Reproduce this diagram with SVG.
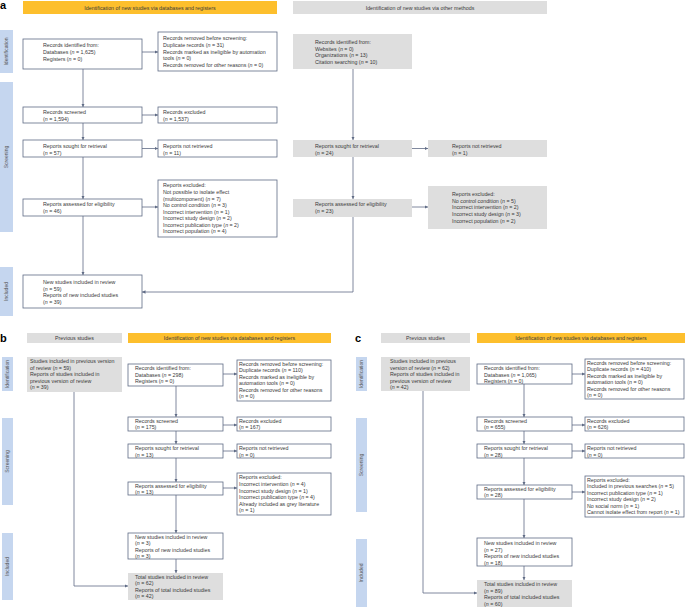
<svg xmlns="http://www.w3.org/2000/svg" width="685" height="607" viewBox="0 0 685 607">
<style>
text{font-family:"Liberation Sans",Arial,sans-serif;font-size:5.3px;fill:#3a3a3a}
.i{font-style:italic}
.h{text-anchor:middle}
.lbl{font-size:11px;font-weight:bold;fill:#000}
.side{font-size:5px;fill:#555;text-anchor:middle}
.bx{fill:#fff;stroke:#5f6b85;stroke-width:0.8}
.gb{fill:#dedede;stroke:none}
.or{fill:#fdbf2d}
.gh{fill:#dedede}
.sb{fill:#c5d6ef}
.c{fill:none;stroke:#5f6b85;stroke-width:0.8;marker-end:url(#ah)}
</style>
<defs>
<marker id="ah" viewBox="0 0 6 6" refX="6" refY="3" markerWidth="3.5" markerHeight="3.5" markerUnits="userSpaceOnUse" orient="auto">
<path d="M0,0 L6,3 L0,6 z" fill="#5f6b85"/>
</marker>
</defs>

<!-- Panel a -->
<g id="a-label"><text class="lbl" x="0" y="9">a</text></g>
<g id="a-head-db"><rect class="or" x="23" y="1" width="254" height="13"/><text class="h" x="150" y="9.5">Identification of new studies via databases and registers</text></g>
<g id="a-head-other"><rect class="gh" x="293" y="1" width="254" height="13"/><text class="h" x="420" y="9.5">Identification of new studies via other methods</text></g>
<g id="a-side-id"><rect class="sb" x="0" y="30" width="13" height="43"/><text class="side" transform="translate(8.3,51.5) rotate(-90)">Identification</text></g>
<g id="a-side-scr"><rect class="sb" x="0" y="82" width="13" height="150"/><text class="side" transform="translate(8.3,157) rotate(-90)">Screening</text></g>
<g id="a-side-inc"><rect class="sb" x="0" y="267" width="13" height="49"/><text class="side" transform="translate(8.3,291.5) rotate(-90)">Included</text></g>

<g id="a-identified"><rect class="bx" x="23" y="39" width="119" height="30"/>
<text x="43" y="47">Records identified from:</text><text x="43" y="54">Databases (<tspan class="i">n</tspan> = 1,625)</text><text x="43" y="60.5">Registers (<tspan class="i">n</tspan> = 0)</text></g>
<g id="a-removed"><rect class="bx" x="158" y="32" width="119" height="39"/>
<text x="163" y="40">Records removed before screening:</text><text x="163" y="47">Duplicate records (<tspan class="i">n</tspan> = 31)</text><text x="163" y="53.5">Records marked as ineligible by automation</text><text x="163" y="60">tools (<tspan class="i">n</tspan> = 0)</text><text x="163" y="67">Records removed for other reasons (<tspan class="i">n</tspan> = 0)</text></g>
<g id="a-screened"><rect class="bx" x="23" y="107" width="119" height="16"/>
<text x="43" y="114">Records screened</text><text x="43" y="120.5">(<tspan class="i">n</tspan> = 1,594)</text></g>
<g id="a-excluded"><rect class="bx" x="158" y="107" width="119" height="16"/>
<text x="163" y="114">Records excluded</text><text x="163" y="120.5">(<tspan class="i">n</tspan> = 1,537)</text></g>
<g id="a-sought"><rect class="bx" x="23" y="140" width="119" height="17"/>
<text x="43" y="148">Reports sought for retrieval</text><text x="43" y="154.5">(<tspan class="i">n</tspan> = 57)</text></g>
<g id="a-notret"><rect class="bx" x="158" y="140" width="119" height="17"/>
<text x="163" y="148">Reports not retrieved</text><text x="163" y="154.5">(<tspan class="i">n</tspan> = 11)</text></g>
<g id="a-assessed"><rect class="bx" x="23" y="199" width="119" height="17"/>
<text x="43" y="206">Reports assessed for eligibility</text><text x="43" y="213">(<tspan class="i">n</tspan> = 46)</text></g>
<g id="a-repexcl"><rect class="bx" x="158" y="180" width="119" height="57"/>
<text x="163" y="186.5">Reports excluded:</text><text x="163" y="194">Not possible to isolate effect</text><text x="163" y="200.5">(multicomponent) (<tspan class="i">n</tspan> = 7)</text><text x="163" y="207">No control condition (<tspan class="i">n</tspan> = 3)</text><text x="163" y="213.5">Incorrect intervention (<tspan class="i">n</tspan> = 1)</text><text x="163" y="220">Incorrect study design (<tspan class="i">n</tspan> = 2)</text><text x="163" y="226.5">Incorrect publication type (<tspan class="i">n</tspan> = 2)</text><text x="163" y="233">Incorrect population (<tspan class="i">n</tspan> = 4)</text></g>
<g id="a-new"><rect class="bx" x="23" y="275" width="119" height="33"/>
<text x="43" y="284">New studies included in review</text><text x="43" y="290.5">(<tspan class="i">n</tspan> = 59)</text><text x="43" y="297">Reports of new included studies</text><text x="43" y="303.5">(<tspan class="i">n</tspan> = 39)</text></g>

<g id="a-o-identified"><rect class="gb" x="293" y="34" width="119" height="35"/>
<text x="315" y="44">Records identified from:</text><text x="315" y="50.5">Websites (<tspan class="i">n</tspan> = 0)</text><text x="315" y="57">Organizations (<tspan class="i">n</tspan> = 13)</text><text x="315" y="63.5">Citation searching (<tspan class="i">n</tspan> = 10)</text></g>
<g id="a-o-sought"><rect class="gb" x="293" y="140" width="119" height="17"/>
<text x="315" y="148">Reports sought for retrieval</text><text x="315" y="154.5">(<tspan class="i">n</tspan> = 24)</text></g>
<g id="a-o-notret"><rect class="gb" x="428" y="140" width="119" height="17"/>
<text x="452" y="148">Reports not retrieved</text><text x="452" y="154.5">(<tspan class="i">n</tspan> = 1)</text></g>
<g id="a-o-assessed"><rect class="gb" x="293" y="199" width="119" height="18"/>
<text x="315" y="206">Reports assessed for eligibility</text><text x="315" y="213">(<tspan class="i">n</tspan> = 23)</text></g>
<g id="a-o-repexcl"><rect class="gb" x="428" y="186" width="119" height="43"/>
<text x="452" y="195.5">Reports excluded:</text><text x="452" y="202.5">No control condition (<tspan class="i">n</tspan> = 5)</text><text x="452" y="209">Incorrect intervention (<tspan class="i">n</tspan> = 2)</text><text x="452" y="215.5">Incorrect study design (<tspan class="i">n</tspan> = 3)</text><text x="452" y="222.5">Incorrect population (<tspan class="i">n</tspan> = 2)</text></g>

<!-- Panel b -->
<g id="b-label"><text class="lbl" x="0" y="342">b</text></g>
<g id="b-head-prev"><rect class="gh" x="27" y="333" width="95" height="10"/><text class="h" x="74.5" y="340">Previous studies</text></g>
<g id="b-head-db"><rect class="or" x="128" y="333" width="203" height="10"/><text class="h" x="229.5" y="340">Identification of new studies via databases and registers</text></g>
<g id="b-side-id"><rect class="sb" x="2" y="357" width="11" height="34"/><text class="side" transform="translate(9.3,374) rotate(-90)">Identification</text></g>
<g id="b-side-scr"><rect class="sb" x="2" y="418" width="11" height="87"/><text class="side" transform="translate(9.3,461.5) rotate(-90)">Screening</text></g>
<g id="b-side-inc"><rect class="sb" x="2" y="533" width="11" height="67"/><text class="side" transform="translate(9.3,566.5) rotate(-90)">Included</text></g>

<g id="b-prev"><rect class="gb" x="27" y="357" width="95" height="35"/>
<text x="30" y="363">Studies included in previous version</text><text x="30" y="369.5">of review (<tspan class="i">n</tspan> = 59)</text><text x="30" y="376">Reports of studies included in</text><text x="30" y="382.5">previous version of review</text><text x="30" y="389">(<tspan class="i">n</tspan> = 39)</text></g>
<g id="b-identified"><rect class="bx" x="128" y="364" width="95" height="22"/>
<text x="135" y="370">Records identified from:</text><text x="135" y="376.5">Databases (<tspan class="i">n</tspan> = 298)</text><text x="135" y="383">Registers (<tspan class="i">n</tspan> = 0)</text></g>
<g id="b-removed"><rect class="bx" x="237" y="360" width="94" height="41"/>
<text x="239" y="365.5">Records removed before screening:</text><text x="239" y="372">Duplicate records (<tspan class="i">n</tspan> = 110)</text><text x="239" y="378.5">Records marked as ineligible by</text><text x="239" y="385">automation tools (<tspan class="i">n</tspan> = 0)</text><text x="239" y="391.5">Records removed for other reasons</text><text x="239" y="398">(<tspan class="i">n</tspan> = 0)</text></g>
<g id="b-screened"><rect class="bx" x="128" y="417" width="95" height="14"/>
<text x="135" y="423">Records screened</text><text x="135" y="429">(<tspan class="i">n</tspan> = 175)</text></g>
<g id="b-excluded"><rect class="bx" x="237" y="417" width="94" height="14"/>
<text x="239" y="423">Records excluded</text><text x="239" y="429">(<tspan class="i">n</tspan> = 167)</text></g>
<g id="b-sought"><rect class="bx" x="128" y="444" width="95" height="14"/>
<text x="135" y="450">Reports sought for retrieval</text><text x="135" y="456.5">(<tspan class="i">n</tspan> = 13)</text></g>
<g id="b-notret"><rect class="bx" x="237" y="444" width="94" height="14"/>
<text x="239" y="450">Reports not retrieved</text><text x="239" y="456.5">(<tspan class="i">n</tspan> = 0)</text></g>
<g id="b-assessed"><rect class="bx" x="128" y="482" width="95" height="13"/>
<text x="135" y="487.5">Reports assessed for eligibility</text><text x="135" y="493.5">(<tspan class="i">n</tspan> = 13)</text></g>
<g id="b-repexcl"><rect class="bx" x="237" y="473" width="94" height="42"/>
<text x="239" y="479">Reports excluded:</text><text x="239" y="485.5">Incorrect intervention (<tspan class="i">n</tspan> = 4)</text><text x="239" y="492.5">Incorrect study design (<tspan class="i">n</tspan> = 1)</text><text x="239" y="499">Incorrect publication type (<tspan class="i">n</tspan> = 4)</text><text x="239" y="505.5">Already included as grey literature</text><text x="239" y="512">(<tspan class="i">n</tspan> = 1)</text></g>
<g id="b-new"><rect class="bx" x="128" y="533" width="95" height="26"/>
<text x="135" y="538.5">New studies included in review</text><text x="135" y="545">(<tspan class="i">n</tspan> = 3)</text><text x="135" y="551.5">Reports of new included studies</text><text x="135" y="558">(<tspan class="i">n</tspan> = 3)</text></g>
<g id="b-total"><rect class="gb" x="128" y="573" width="95" height="27"/>
<text x="135" y="578.5">Total studies included in review</text><text x="135" y="585">(<tspan class="i">n</tspan> = 62)</text><text x="135" y="591.5">Reports of total included studies</text><text x="135" y="598">(<tspan class="i">n</tspan> = 42)</text></g>

<!-- Panel c -->
<g id="c-label"><text class="lbl" x="355" y="342">c</text></g>
<g id="c-head-prev"><rect class="gh" x="381" y="333" width="89" height="10"/><text class="h" x="425.5" y="340">Previous studies</text></g>
<g id="c-head-db"><rect class="or" x="477" y="333" width="208" height="10"/><text class="h" x="581" y="340">Identification of new studies via databases and registers</text></g>
<g id="c-side-id"><rect class="sb" x="356" y="357" width="11" height="34"/><text class="side" transform="translate(363.3,374) rotate(-90)">Identification</text></g>
<g id="c-side-scr"><rect class="sb" x="356" y="418" width="11" height="94"/><text class="side" transform="translate(363.3,465) rotate(-90)">Screening</text></g>
<g id="c-side-inc"><rect class="sb" x="356" y="539" width="11" height="68"/><text class="side" transform="translate(363.3,573) rotate(-90)">Included</text></g>

<g id="c-prev"><rect class="gb" x="381" y="357" width="89" height="34"/>
<text x="390" y="363">Studies included in previous</text><text x="390" y="369.5">version of review (<tspan class="i">n</tspan> = 62)</text><text x="390" y="376">Reports of studies included in</text><text x="390" y="382.5">previous version of review</text><text x="390" y="389">(<tspan class="i">n</tspan> = 42)</text></g>
<g id="c-identified"><rect class="bx" x="477" y="364" width="95" height="20"/>
<text x="484" y="370">Records identified from:</text><text x="484" y="376.5">Databases (<tspan class="i">n</tspan> = 1,065)</text><text x="484" y="383">Registers (<tspan class="i">n</tspan> = 0)</text></g>
<g id="c-removed"><rect class="bx" x="585" y="359" width="99" height="40"/>
<text x="587" y="364.5">Records removed before screening:</text><text x="587" y="371">Duplicate records (<tspan class="i">n</tspan> = 410)</text><text x="587" y="377.5">Records marked as ineligible by</text><text x="587" y="384">automation tools (<tspan class="i">n</tspan> = 0)</text><text x="587" y="390.5">Records removed for other reasons</text><text x="587" y="397">(<tspan class="i">n</tspan> = 0)</text></g>
<g id="c-screened"><rect class="bx" x="477" y="417" width="95" height="14"/>
<text x="484" y="423">Records screened</text><text x="484" y="429">(<tspan class="i">n</tspan> = 655)</text></g>
<g id="c-excluded"><rect class="bx" x="585" y="417" width="99" height="14"/>
<text x="587" y="423">Records excluded</text><text x="587" y="429">(<tspan class="i">n</tspan> = 626)</text></g>
<g id="c-sought"><rect class="bx" x="477" y="444" width="95" height="14"/>
<text x="484" y="450">Reports sought for retrieval</text><text x="484" y="456.5">(<tspan class="i">n</tspan> = 28)</text></g>
<g id="c-notret"><rect class="bx" x="585" y="444" width="99" height="14"/>
<text x="587" y="450">Reports not retrieved</text><text x="587" y="456.5">(<tspan class="i">n</tspan> = 0)</text></g>
<g id="c-assessed"><rect class="bx" x="477" y="485" width="95" height="14"/>
<text x="484" y="491">Reports assessed for eligibility</text><text x="484" y="497">(<tspan class="i">n</tspan> = 28)</text></g>
<g id="c-repexcl"><rect class="bx" x="585" y="476" width="99" height="41"/>
<text x="587" y="481.5">Reports excluded:</text><text x="587" y="488">Included in previous searches (<tspan class="i">n</tspan> = 5)</text><text x="587" y="494.5">Incorrect publication type (<tspan class="i">n</tspan> = 1)</text><text x="587" y="501">Incorrect study design (<tspan class="i">n</tspan> = 2)</text><text x="587" y="507.5">No social norm (<tspan class="i">n</tspan> = 1)</text><text x="587" y="514">Cannot isolate effect from report (<tspan class="i">n</tspan> = 1)</text></g>
<g id="c-new"><rect class="bx" x="477" y="538" width="95" height="28"/>
<text x="484" y="545">New studies included in review</text><text x="484" y="551.5">(<tspan class="i">n</tspan> = 27)</text><text x="484" y="558">Reports of new included studies</text><text x="484" y="564.5">(<tspan class="i">n</tspan> = 18)</text></g>
<g id="c-total"><rect class="gb" x="477" y="580" width="95" height="27"/>
<text x="484" y="586">Total studies included in review</text><text x="484" y="592.5">(<tspan class="i">n</tspan> = 89)</text><text x="484" y="599">Reports of total included studies</text><text x="484" y="605.5">(<tspan class="i">n</tspan> = 60)</text></g>

<g id="connectors">
<path class="c" d="M142,52 H158"/>
<path class="c" d="M83,69 V107"/>
<path class="c" d="M142,115 H158"/>
<path class="c" d="M83,123 V140"/>
<path class="c" d="M142,148.5 H158"/>
<path class="c" d="M83,157 V199"/>
<path class="c" d="M142,207 H158"/>
<path class="c" d="M83,216 V275"/>
<path class="c" d="M353,69 V140"/>
<path class="c" d="M412,148.5 H428"/>
<path class="c" d="M353,157 V199"/>
<path class="c" d="M412,207 H428"/>
<path class="c" d="M353,217 V292 H142"/>

<path class="c" d="M223,374 H237"/>
<path class="c" d="M176,386 V417"/>
<path class="c" d="M223,425 H237"/>
<path class="c" d="M176,431 V444"/>
<path class="c" d="M223,451 H237"/>
<path class="c" d="M176,458 V482"/>
<path class="c" d="M223,488 H237"/>
<path class="c" d="M176,495 V533"/>
<path class="c" d="M176,559 V573"/>
<path class="c" d="M74,392 V586 H128"/>

<path class="c" d="M572,374 H585"/>
<path class="c" d="M524,384 V417"/>
<path class="c" d="M572,425 H585"/>
<path class="c" d="M524,431 V444"/>
<path class="c" d="M572,451 H585"/>
<path class="c" d="M524,458 V485"/>
<path class="c" d="M572,492 H585"/>
<path class="c" d="M524,499 V538"/>
<path class="c" d="M524,566 V580"/>
<path class="c" d="M423,391 V593 H477"/>
</g>
</svg>
